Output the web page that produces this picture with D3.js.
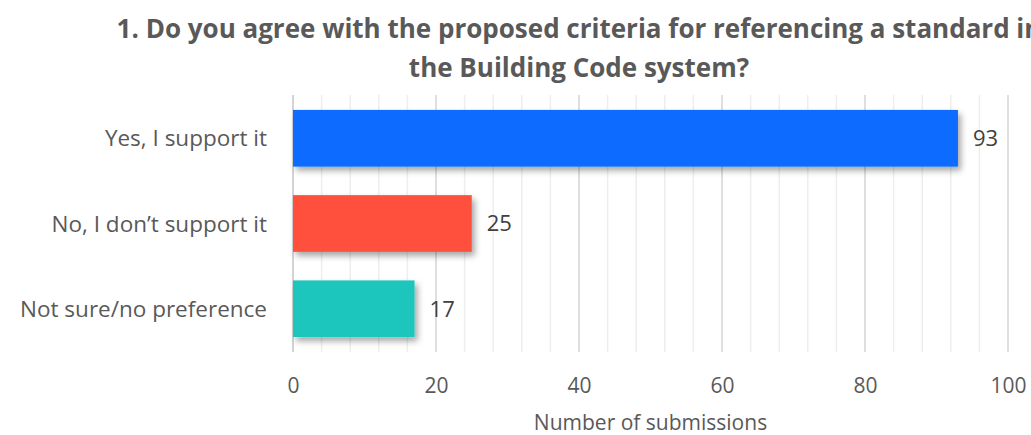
<!DOCTYPE html>
<html>
<head>
<meta charset="utf-8">
<script src="https://cdn.jsdelivr.net/npm/d3@7"></script>
<style>
  body { margin: 0; background: #fff; overflow: hidden; }
  svg { font-family: "Open Sans", sans-serif; display: block; }
</style>
</head>
<body>
<div id="chart"></div>
<script>
// data
var categories = ['Yes, I support it', 'No, I don\u2019t support it', 'Not sure/no preference'];
var counts = [93, 25, 17];
var barColors = ['#0a6cff', '#ff4f3c', '#1cc6bc'];
var xTicks = [0, 20, 40, 60, 80, 100];
var titleLines = ['1. Do you agree with the proposed criteria for referencing a standard in', 'the Building Code system?'];
var axisTitle = 'Number of submissions';

var W = 1031, H = 435;
var margin = {top: 95, left: 293};
var width = 1008 - margin.left,
    height = 352 - margin.top;

var svg = d3.select('#chart').append('svg')
    .attr('width', W)
    .attr('height', H);

// drop shadow for bars
var defs = svg.append('defs');
var f = defs.append('filter').attr('id', 'shadow')
    .attr('x', '-10%').attr('y', '-20%').attr('width', '130%').attr('height', '160%');
f.append('feDropShadow')
    .attr('dx', 3).attr('dy', 4).attr('stdDeviation', 3)
    .attr('flood-color', '#000').attr('flood-opacity', 0.35);

// title (first line runs past the right edge, as in the original)
svg.append('text')
    .attr('x', 579)
    .attr('y', 38)
    .attr('text-anchor', 'middle')
    .attr('fill', '#595959')
    .style('font-size', '26px')
    .style('font-weight', 'bold')
    .selectAll('tspan')
    .data(titleLines)
    .enter().append('tspan')
    .attr('x', 579)
    .attr('dy', function(d, i) { return i === 0 ? 0 : 39; })
    .text(function(d) { return d; });

var g = svg.append('g')
    .attr('transform', 'translate(' + margin.left + ',' + margin.top + ')');

// scales
var x = d3.scaleLinear().domain([0, 100]).range([0, width]);
var y = d3.scaleBand().domain(categories).range([0, height]).paddingInner(0.335).paddingOuter(0.175);

// minor gridlines every 4
g.append('g')
    .selectAll('line')
    .data(d3.range(0, 101, 4))
    .enter().append('line')
    .attr('x1', function(d) { return x(d); })
    .attr('x2', function(d) { return x(d); })
    .attr('y1', 0)
    .attr('y2', height)
    .attr('stroke', '#eeeeee')
    .attr('stroke-width', 1.5);

// major gridlines
g.append('g')
    .selectAll('line')
    .data(xTicks)
    .enter().append('line')
    .attr('x1', function(d) { return x(d); })
    .attr('x2', function(d) { return x(d); })
    .attr('y1', 0)
    .attr('y2', height)
    .attr('stroke', function(d) { return d === 0 ? '#cfcfcf' : '#dcdcdc'; })
    .attr('stroke-width', 1.7);

// bars
g.selectAll('.bar')
    .data(counts)
    .enter().append('rect')
    .attr('class', 'bar')
    .attr('x', x(0))
    .attr('y', function(d, i) { return y(categories[i]); })
    .attr('width', function(d) { return x(d) - x(0); })
    .attr('height', y.bandwidth())
    .attr('fill', function(d, i) { return barColors[i]; })
    .attr('filter', 'url(#shadow)');

// value labels
g.selectAll('.val')
    .data(counts)
    .enter().append('text')
    .attr('class', 'val')
    .attr('x', function(d) { return x(d) + 15; })
    .attr('y', function(d, i) { return y(categories[i]) + y.bandwidth() / 2; })
    .attr('dy', '0.36em')
    .attr('fill', '#404040')
    .style('font-size', '22px')
    .text(function(d) { return d; });

// category labels
var yAxis = g.append('g')
    .call(d3.axisLeft(y).tickSize(0).tickPadding(26));
yAxis.select('.domain').remove();
yAxis.selectAll('text')
    .attr('fill', '#595959')
    .attr('dy', '0.36em')
    .style('font-size', '22.5px')
    .style('font-family', '"Open Sans", sans-serif');

// x axis
var xAxis = g.append('g')
    .attr('transform', 'translate(0,' + height + ')')
    .call(d3.axisBottom(x).tickValues(xTicks).tickSize(0).tickPadding(26));
xAxis.select('.domain').remove();
xAxis.selectAll('text')
    .attr('fill', '#595959')
    .style('font-size', '21px')
    .style('font-family', '"Open Sans", sans-serif');

// axis title
svg.append('text')
    .attr('x', margin.left + width / 2)
    .attr('y', 430)
    .attr('text-anchor', 'middle')
    .attr('fill', '#595959')
    .style('font-size', '21px')
    .text(axisTitle);
</script>
</body>
</html>
